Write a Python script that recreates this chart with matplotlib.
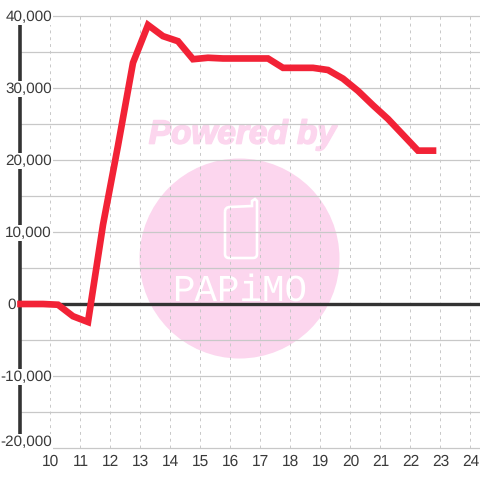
import matplotlib
matplotlib.use("Agg")
import matplotlib.pyplot as plt
import matplotlib.patheffects as pe
from matplotlib.patches import Ellipse, PathPatch
from matplotlib.path import Path
from matplotlib.transforms import Affine2D

hours = [9.0, 9.75, 10.25, 10.75, 11.25, 11.75, 12.25, 12.75, 13.25, 13.75, 14.25, 14.75,
         15.25, 15.75, 16.25, 16.75, 17.25, 17.75, 18.25, 18.75, 19.25, 19.75, 20.25,
         20.75, 21.25, 21.75, 22.25, 22.75]
values = [0, 0, -100, -1700, -2500, 11000, 22000, 33500, 38750, 37200, 36500, 34000,
          34200, 34100, 34100, 34100, 34100, 32800, 32800, 32800, 32500, 31300, 29600,
          27600, 25700, 23500, 21300, 21300]
x_ticks = list(range(10, 25))
y_ticks = [40000, 30000, 20000, 10000, 0, -10000, -20000]
y_grid = list(range(-20000, 40001, 5000))

RED, DARK, GRID, PINK, TXT = "#f22236", "#333333", "#c8c8c8", "#fcd6ee", "#3a3a3a"
plt.rcParams["font.family"] = ["Liberation Sans", "DejaVu Sans"]
plt.rcParams["text.hinting"] = "no_hinting"

fig = plt.figure(figsize=(4.8, 4.8), dpi=100, facecolor="white")
ax = fig.add_axes([0, 0, 1, 1])
ax.set_xlim(8.3167, 24.3167)
ax.set_ylim(-24444, 42222)
ax.axis("off")

# pixel-space helper (origin top-left) for the watermark
px = Affine2D().scale(1, -1).translate(0, 480)
ax.add_patch(Ellipse((239.5, 258.5), 200, 200, transform=px, fc=PINK, ec="none", zorder=1))
phone = Path([(225, 212), (225, 207), (230, 207), (252, 206), (252, 201), (255, 199), (257, 201),
              (257, 254), (257, 258), (253, 258), (229, 258), (225, 258), (225, 254), (225, 212)],
             [Path.MOVETO, Path.CURVE3, Path.CURVE3, Path.LINETO, Path.LINETO, Path.LINETO, Path.LINETO,
              Path.LINETO, Path.CURVE3, Path.CURVE3, Path.LINETO, Path.CURVE3, Path.CURVE3, Path.LINETO])
ax.add_patch(PathPatch(phone, transform=px, fc="none", ec="white", lw=1.9, zorder=1.5))
ax.text(242.5, 135, "Powered by", transform=px, ha="center", va="center", color=PINK,
        fontsize=24, fontweight="bold", fontstyle="italic", zorder=1.2,
        path_effects=[pe.withStroke(linewidth=1.2, foreground=PINK)])
ax.text(240, 291, "PAPiMO", transform=px, ha="center", va="center", color="white",
        fontsize=27, zorder=1.5, family=["Liberation Mono", "Liberation Sans"])

ax.hlines(y_grid, 9, 24.3167, colors=GRID, lw=0.9, zorder=2)
ax.vlines(x_ticks, -20000, 40000, colors=GRID, lw=0.7, linestyles=(0, (3, 4)), zorder=2)
ax.vlines(9, -20000, 40000, colors=DARK, lw=2.6, zorder=3)
ax.hlines(0, 9, 24.3167, colors=DARK, lw=2.4, zorder=3)
ax.plot(hours, values, color=RED, lw=4.8, solid_capstyle="projecting", solid_joinstyle="miter", zorder=4)

for t in x_ticks:
    ax.text(t, -21950, str(t), ha="center", va="center", color=TXT, fontsize=11.2, zorder=5)
for v in y_ticks:
    x = 8.72 if v == 0 else 10.05
    y = -19150 if v == y_ticks[-1] else v - 130
    ax.text(x, y, f"{v:,}", ha="center" if v == 0 else "right", va="center", color=TXT, fontsize=11, zorder=5,
            bbox=None if v == 0 else dict(fc="white", ec="none", pad=0.7))

fig.savefig("out.png", dpi=100, facecolor="white")
